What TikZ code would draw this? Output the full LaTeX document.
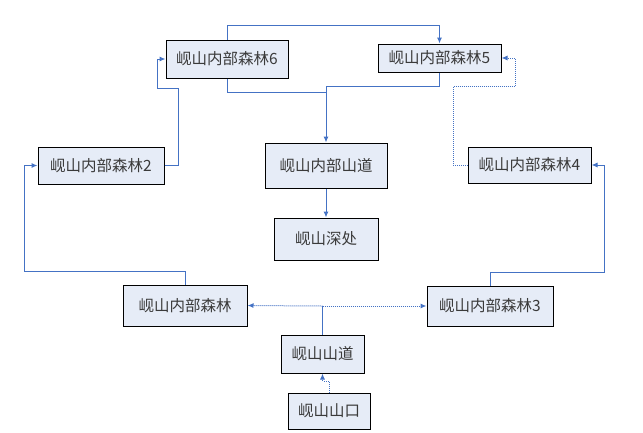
\documentclass[tikz,border=0pt]{standalone}
\usepackage{fontspec}
\newfontfamily\cjk{Noto Sans CJK SC}
\usetikzlibrary{arrows.meta}
\definecolor{lnblue}{HTML}{4472C4}
\definecolor{boxfill}{HTML}{E6ECF7}
\definecolor{txt}{HTML}{3A3A3A}
\tikzset{
  box/.style={draw=black, line width=1pt, fill=boxfill, inner sep=0pt, text=txt,
    font=\cjk\fontsize{15.5}{18}\selectfont},
  conn/.style={draw=lnblue, line width=1pt},
  arr/.style={conn, -{Latex[length=6pt,width=5pt]}},
  dotline/.style={densely dotted}
}
\begin{document}
\begin{tikzpicture}[x=1pt,y=-1pt]
\useasboundingbox (0,0) rectangle (643,432);
% nodes
\node[box, minimum width=122pt, minimum height=38pt] (n6) at (227,59) {岘山内部森林6};
\node[box, minimum width=123pt, minimum height=28pt] (n5) at (439.5,58) {岘山内部森林5};
\node[box, minimum width=126pt, minimum height=37pt] (n2) at (101,165.5) {岘山内部森林2};
\node[box, minimum width=123pt, minimum height=36pt] (n4) at (529.5,165) {岘山内部森林4};
\node[box, minimum width=122pt, minimum height=45pt] (nsd) at (326,165.5) {岘山内部山道};
\node[box, minimum width=104pt, minimum height=42pt] (nsc) at (326,239) {岘山深处};
\node[box, minimum width=124pt, minimum height=41pt] (n0) at (185,305.5) {岘山内部森林};
\node[box, minimum width=126pt, minimum height=40pt] (n3) at (490,306) {岘山内部森林3};
\node[box, minimum width=83pt, minimum height=38pt] (nshd) at (322.5,354) {岘山山道};
\node[box, minimum width=82pt, minimum height=36pt] (nsk) at (329,411) {岘山山口};
% helper coordinates
\coordinate (a1) at (227,25);
\coordinate (j1) at (326,92);
\coordinate (j2) at (326,86);
\coordinate (c1) at (178,88);
\coordinate (c1b) at (157,88);
\coordinate (c2) at (24,271);
\coordinate (c3) at (604,272);
\coordinate (c4) at (453,86);
\coordinate (c5) at (515,86);
\coordinate (c6) at (322.5,306);
\coordinate (c7) at (329,381);
% connectors
\draw[arr] (n6.north) -- (a1) -| (n5.north);
\draw[conn] (n6.south) |- (j1);
\draw[conn] (n5.south) |- (j2);
\draw[arr] (j2) -- (nsd.north);
\draw[arr] (nsd.south) -- (nsc.north);
\draw[arr] (n2.east) -| (c1) -- (c1b) |- (n6.west);
\draw[arr] (n0.north) |- (c2) |- (n2.west);
\draw[arr] (n3.north) |- (c3) |- (n4.east);
\draw[arr, dotline] (n4.west) -| (c4) -- (c5) |- (n5.east);
\draw[conn] (nshd.north) -- (c6);
\draw[arr, dotline] (c6) -- (n0.east);
\draw[arr, dotline] (c6) -- (n3.west);
\draw[arr, dotline] (nsk.north) -- (c7) -| (nshd.south);
\end{tikzpicture}
\end{document}
